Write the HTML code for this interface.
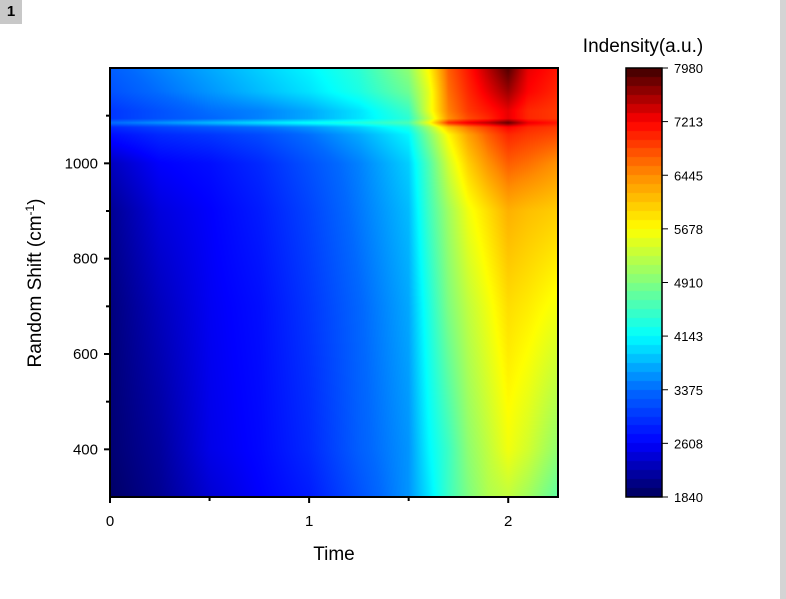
<!DOCTYPE html>
<html><head><meta charset="utf-8"><style>
body{margin:0;background:#fff;width:786px;height:599px;overflow:hidden;position:relative;font-family:"Liberation Sans",Arial,sans-serif}
</style></head><body>
<div style="position:absolute;left:0;top:0;width:22px;height:24px;background:#c8c8c8;font:bold 15px 'Liberation Sans',sans-serif;text-align:center;line-height:24px">1</div>
<div style="position:absolute;left:780px;top:0;width:6px;height:599px;background:#d4d4d4"></div>
<canvas id="hm" width="448" height="429" style="position:absolute;left:110px;top:68px"></canvas>
<canvas id="cb" width="36" height="429" style="position:absolute;left:626px;top:68px"></canvas>
<svg id="ax" width="786" height="599" style="position:absolute;left:0;top:0"></svg>
<script>
const times=[0,0.25,0.5,0.75,1,1.25,1.5,1.6,1.7,1.8,1.9,2,2.1,2.25];
const shifts=[300,400,700,900,1000,1060,1076,1085,1094,1110,1150,1200];
const row300=[1900,2100,2400,2600,2800,3200,3600,4000,4500,4900,5200,5300,5100,4700];
const row400=[1950,2150,2500,2650,2900,3300,3600,4100,4500,5000,5300,5600,5400,5000];
const row700=[2000,2300,2550,2700,3000,3350,3700,4300,4900,5300,5600,5900,5800,5600];
const row900=[2100,2450,2600,2800,3100,3450,3800,4500,5100,5600,5900,6200,6100,6000];
const row1000=[2300,2600,2700,2900,3200,3500,3900,4600,5400,6000,6400,6700,6600,6400];
const row1060=[2700,2900,3000,3150,3400,3700,4100,4900,5700,6300,6700,7000,6900,6800];
const row1076=[2900,3100,3250,3400,3600,3900,4300,5100,6100,6600,6900,7200,7000,6900];
const row1085=[3400,3600,3800,4000,4200,4350,4600,5600,7000,7300,7500,7850,7300,7100];
const row1094=[3000,3200,3350,3500,3700,4000,4400,5300,6400,6800,7000,7300,7000,6900];
const row1110=[3000,3200,3400,3500,3700,4000,4500,5500,6500,6900,7100,7300,7000,6900];
const row1150=[3200,3400,3600,3800,4000,4300,4800,5500,6600,7000,7300,7600,7200,7000];
const row1200=[3300,3500,3700,3900,4100,4400,5000,5700,6700,7100,7500,7900,7300,7100];
const cbTicks=[1840,2608,3375,4143,4910,5678,6445,7213,7980];
const xTicks=[0,1,2];
const yTicks=[400,600,800,1000];
const rows=[row300,row400,row700,row900,row1000,row1060,row1076,row1085,row1094,row1110,row1150,row1200];
const X0=110,X1=558,Y0=68,Y1=497,XMIN=0,XMAX=2.25,YMIN=300,YMAX=1200,VMIN=1840,VMAX=7980,LEV=48;
const sx=v=>X0+(v-XMIN)/(XMAX-XMIN)*(X1-X0);
const sy=v=>Y1-(v-YMIN)/(YMAX-YMIN)*(Y1-Y0);
const stops=[[0,[0,0,90]],[0.125,[0,0,255]],[0.25,[0,105,255]],[0.375,[0,255,255]],[0.5,[128,255,128]],[0.625,[255,255,0]],[0.75,[255,140,0]],[0.875,[255,0,0]],[1,[60,0,0]]];
function cmap(v,q){let f=(v-VMIN)/(VMAX-VMIN);f=Math.max(0,Math.min(0.9999,f));if(q)f=(Math.floor(f*LEV)+0.5)/LEV;
for(let i=1;i<stops.length;i++){if(f<=stops[i][0]){const a=stops[i-1],b=stops[i],t=(f-a[0])/(b[0]-a[0]);return a[1].map((c,k)=>Math.round(c+(b[1][k]-c)*t));}}return stops[8][1];}
function seg(arr,v){let i=0;while(i<arr.length-2&&v>arr[i+1])i++;return [i,Math.max(0,Math.min(1,(v-arr[i])/(arr[i+1]-arr[i])))];}
const hm=document.getElementById('hm').getContext('2d');const img=hm.createImageData(448,429);
for(let py=0;py<429;py++){const yv=YMAX-(py+0.5)/429*(YMAX-YMIN);const [j,ty]=seg(shifts,yv);
for(let px=0;px<448;px++){const xv=XMIN+(px+0.5)/448*(XMAX-XMIN);const [i,tx]=seg(times,xv);
const a=rows[j][i]*(1-tx)+rows[j][i+1]*tx,b=rows[j+1][i]*(1-tx)+rows[j+1][i+1]*tx;const v=a*(1-ty)+b*ty;const c=cmap(v,false);const k=(py*448+px)*4;img.data[k]=c[0];img.data[k+1]=c[1];img.data[k+2]=c[2];img.data[k+3]=255;}}
hm.putImageData(img,0,0);
const cb=document.getElementById('cb').getContext('2d');
for(let py=0;py<429;py++){const v=VMAX-(py+0.5)/429*(VMAX-VMIN);const c=cmap(v,true);cb.fillStyle=`rgb(${c})`;cb.fillRect(0,py,36,1);}
const svg=document.getElementById('ax');const NS='http://www.w3.org/2000/svg';
function el(tag,at,txt){const e=document.createElementNS(NS,tag);for(const k in at)e.setAttribute(k,at[k]);if(txt!==undefined)e.textContent=txt;svg.appendChild(e);return e;}
let r=el('rect',{x:X0,y:Y0,width:X1-X0,height:Y1-Y0,fill:'none',stroke:'#000','stroke-width':2});


for(let v=0;v<=2;v+=0.5){const l=el('line',{x1:sx(v),x2:sx(v),y1:Y1,y2:Y1+(v%1===0?6:4),stroke:'#000','stroke-width':2});

}
xTicks.forEach(v=>{const t=el('text',{x:sx(v),y:526,'text-anchor':'middle','font-size':15},v);

});
for(let v=400;v<=1100;v+=100){const l=el('line',{x1:X0,x2:X0-(v%200===0?6:4),y1:sy(v),y2:sy(v),stroke:'#000','stroke-width':2});

}
yTicks.forEach(v=>{const t=el('text',{x:98,y:sy(v)+5,'text-anchor':'end','font-size':15},v);

});
const cr=el('rect',{x:626,y:68,width:36,height:429,fill:'none',stroke:'#000','stroke-width':1.5});


cbTicks.forEach(v=>{const y=497-(v-VMIN)/(VMAX-VMIN)*429;const l=el('line',{x1:662,x2:668,y1:y,y2:y,stroke:'#000','stroke-width':1});


const t=el('text',{x:674,y:y+5,'font-size':13},v);

});
const xt=el('text',{x:334,y:560,'text-anchor':'middle','font-size':19},'Time');


const yt=el('text',{transform:'translate(41,283) rotate(-90)','text-anchor':'middle','font-size':19});
yt.innerHTML='Random Shift (cm<tspan dy="-7" font-size="12">-1</tspan><tspan dy="7">)</tspan>';


const ct=el('text',{x:643,y:52,'text-anchor':'middle','font-size':19},'Indensity(a.u.)');


</script>
</body></html>
